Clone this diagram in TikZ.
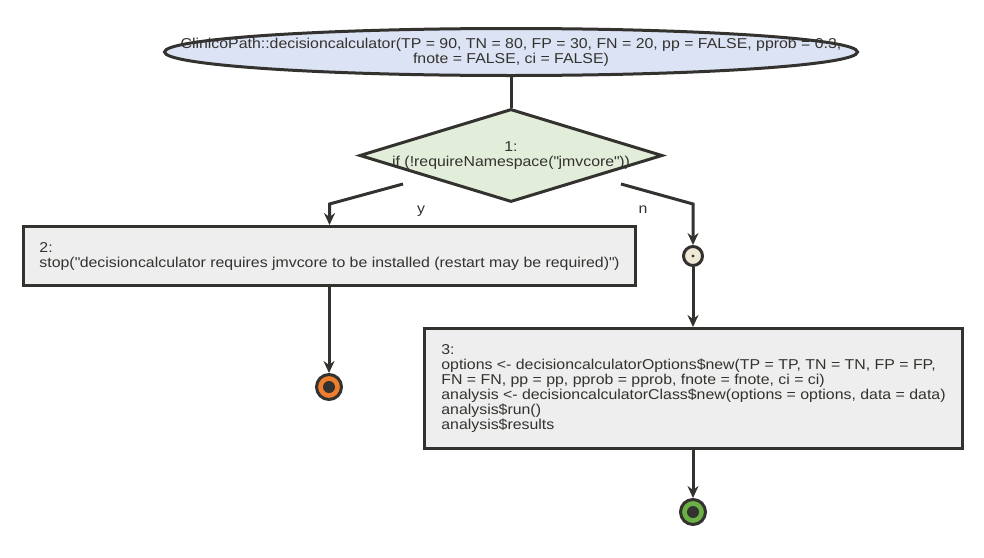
\documentclass[tikz,border=0pt]{standalone}
\usepackage{fontspec}
\setmainfont[FakeStretch=1.11]{Liberation Sans}
\usepackage{xcolor}
\usepackage{tikz}
\usetikzlibrary{shapes.geometric, arrows.meta, positioning, calc}

\definecolor{inkline}{HTML}{33322E}
\definecolor{startfill}{HTML}{DCE3F4}
\definecolor{condfill}{HTML}{E2EED9}
\definecolor{stepfill}{HTML}{EEEEEE}
\definecolor{mergefill}{HTML}{EEE8D5}
\definecolor{stopfill}{HTML}{EE7E2D}
\definecolor{donefill}{HTML}{6BB045}
\newcommand{\dq}{\textquotedbl}

\begin{document}
\begin{tikzpicture}[x=1pt, y=-1pt, font=\fontsize{14.3}{15}\selectfont,
    every label/.style={align=center, text=inkline},
    startbox/.style={ellipse, draw=inkline, fill=startfill, line width=3pt, minimum width=693pt, minimum height=47pt, inner sep=0pt},
    condbox/.style={diamond, draw=inkline, fill=condfill, line width=3pt, minimum width=303pt, minimum height=93pt, inner sep=0pt},
    stepbox/.style={rectangle, draw=inkline, fill=stepfill, line width=3pt, align=left, text=inkline, inner sep=0pt},
    mergedot/.style={circle, draw=inkline, fill=mergefill, line width=3pt, minimum size=19pt, inner sep=0pt},
    enddot/.style={circle, draw=inkline, line width=3pt, minimum size=25pt, inner sep=0pt},
    flow/.style={draw=inkline, line width=3pt, -{Stealth[length=12pt, width=11pt, inset=4pt]}},
    plainflow/.style={draw=inkline, line width=3pt}
  ]
    \useasboundingbox (0,0) rectangle (984,557);

    % Start: the call
    \node[startbox, label={center:{ClinicoPath::decisioncalculator(TP = 90, TN = 80, FP = 30, FN = 20, pp = FALSE, pprob = 0.3,\\fnote = FALSE, ci = FALSE)}}] (call) at (511,52) {};

    % 1: condition
    \node[condbox, label={center:{1:\\if (!requireNamespace(\dq jmvcore\dq))}}] (cond) at (511,155.5) {};
    \draw[plainflow] (call.south) -- (cond.north);

    % 2: stop branch
    \node[stepbox, minimum width=612pt, minimum height=59pt] (stopstep) at (329.5,256) {2:\\stop(\dq decisioncalculator requires jmvcore to be installed (restart may be required)\dq)};
    \node[enddot, fill=stopfill] (stopend) at (329,387) {};
    \fill[inkline] (stopend.center) circle (6pt);

    % merge point on the n branch
    \node[mergedot] (merge) at (693,256) {};
    \fill[inkline] (merge.center) circle (1.6pt);

    % 3: run analysis
    \node[stepbox, minimum width=538pt, minimum height=120pt] (runstep) at (693.5,388.5) {3:\\options <- decisioncalculatorOptions\$new(TP = TP, TN = TN, FP = FP,\\FN = FN, pp = pp, pprob = pprob, fnote = fnote, ci = ci)\\analysis <- decisioncalculatorClass\$new(options = options, data = data)\\analysis\$run()\\analysis\$results};
    \node[enddot, fill=donefill] (doneend) at (693,512) {};
    \fill[inkline] (doneend.center) circle (6pt);

    % branch lines
    \coordinate (yout) at (403,184);
    \coordinate (ybend) at (329.5,204);
    \coordinate (nout) at (621,184);
    \coordinate (nbend) at (693,204);
    \draw[flow] (yout) -- (ybend) -- (stopstep.north);
    \node[text=inkline] (ylabel) at (421,211) {y};
    \draw[flow] (nout) -- (nbend) -- (merge.north);
    \node[text=inkline] (nlabel) at (643,210) {n};

    \draw[flow] (stopstep.south -| stopend) -- (stopend.north);
    \draw[flow] (merge.south) -- (runstep.north -| merge);
    \draw[flow] (runstep.south -| doneend) -- (doneend.north);
\end{tikzpicture}
\end{document}
